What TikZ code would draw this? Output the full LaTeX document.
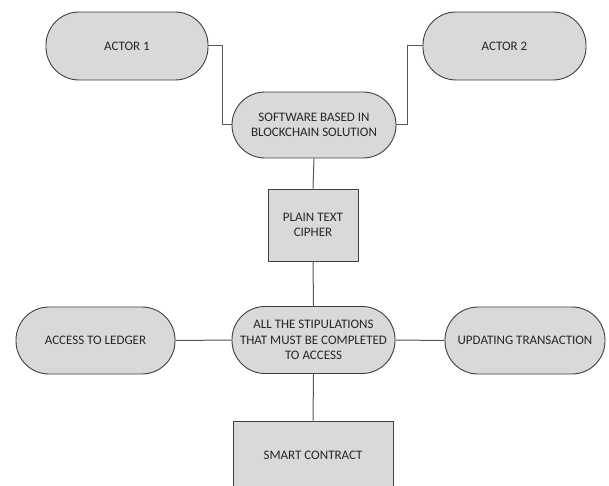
\documentclass[tikz,border=0pt]{standalone}
\usepackage{fontspec}
\setmainfont{Carlito}
\definecolor{fillc}{HTML}{D9D9D9}
\definecolor{bordc}{HTML}{404040}
\definecolor{textc}{HTML}{262626}
\definecolor{linec}{HTML}{555555}
\begin{document}
\begin{tikzpicture}[x=1pt,y=-1pt,
  base/.style={draw=bordc, fill=fillc, line width=0.9pt, align=center, text=textc,
    font=\fontsize{13}{15.5}\selectfont, inner sep=0pt},
  pill/.style={base, rounded corners=33pt},
  boxnode/.style={base},
  conn/.style={draw=linec, line width=1pt}]
\useasboundingbox (0,0) rectangle (609,486);
\clip (0,0) rectangle (609,486);
\fill[white] (0,0) rectangle (609,486);
\node[pill, minimum width=162pt, minimum height=68pt] (a1) at (127,46) {ACTOR 1};
\node[pill, minimum width=163pt, minimum height=68pt] (a2) at (504.5,46) {ACTOR 2};
\node[pill, minimum width=164pt, minimum height=66pt] (sw) at (314,125) {SOFTWARE BASED IN\\BLOCKCHAIN SOLUTION};
\node[boxnode, minimum width=90pt, minimum height=72pt] (pt) at (313,225) {PLAIN TEXT\\CIPHER};
\node[pill, minimum width=163pt, minimum height=67pt] (st) at (313.5,340) {ALL THE STIPULATIONS\\THAT MUST BE COMPLETED\\TO ACCESS};
\node[pill, minimum width=159pt, minimum height=67pt] (al) at (95.5,340.5) {ACCESS TO LEDGER};
\node[pill, minimum width=160pt, minimum height=67pt] (ut) at (525,340.5) {UPDATING TRANSACTION};
\node[boxnode, minimum width=160pt, minimum height=68pt] (sc) at (313,455) {SMART CONTRACT};
\draw[conn] (a1.east) -- ++(14,0) |- (sw.west);
\draw[conn] (a2.west) -- ++(-15,0) |- (sw.east);
\draw[conn] (sw.south) -- (pt.north);
\draw[conn] (pt.south) -- (st.north);
\draw[conn] (st.west) -- (al.east);
\draw[conn] (st.east) -- (ut.west);
\draw[conn] (st.south) -- (sc.north);
\end{tikzpicture}
\end{document}
